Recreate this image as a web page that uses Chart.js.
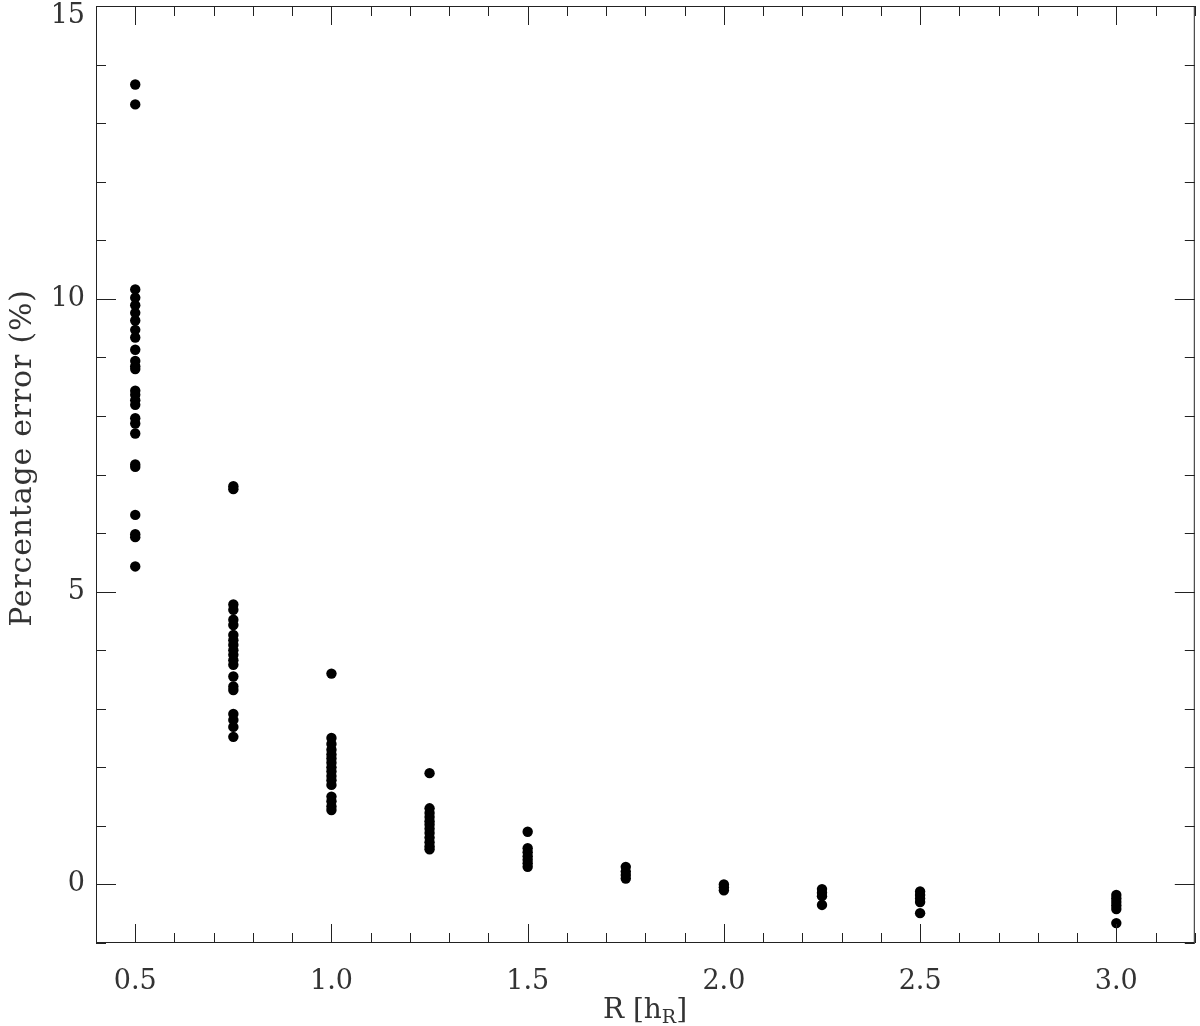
<!DOCTYPE html>
<html>
<head>
<meta charset="utf-8">
<title>Percentage error vs R</title>
<script src="https://cdn.jsdelivr.net/npm/chart.js@4.4.0/dist/chart.umd.min.js"></script>
<style>
  html, body { margin: 0; padding: 0; background: #fff; }
  #wrap { width: 1200px; height: 1026px; }
</style>
</head>
<body>
<div id="wrap"><canvas id="errChart" width="1200" height="1026"></canvas></div>
<script>
// radius (in units of h_R) of each column of points
const radii = [0.5, 0.75, 1.0, 1.25, 1.5, 1.75, 2.0, 2.25, 2.5, 3.0];

// percentage error, one array per radius
const err050 = [13.66, 13.32, 10.16, 10.02, 9.89, 9.76, 9.63, 9.47, 9.34, 9.13, 8.94, 8.85, 8.80,
                8.43, 8.36, 8.27, 8.19, 7.96, 7.87, 7.70, 7.17, 7.13, 6.31, 5.98, 5.93, 5.43];
const err075 = [6.80, 6.75, 4.78, 4.69, 4.52, 4.43, 4.26, 4.17, 4.09, 4.00, 3.92, 3.83, 3.75,
                3.55, 3.38, 3.32, 2.91, 2.81, 2.69, 2.52];
const err100 = [3.60, 2.50, 2.40, 2.30, 2.22, 2.15, 2.08, 2.00, 1.93, 1.85, 1.78, 1.70,
                1.50, 1.42, 1.33, 1.27];
const err125 = [1.90, 1.30, 1.22, 1.15, 1.08, 1.02, 0.95, 0.88, 0.80, 0.72, 0.65, 0.60];
const err150 = [0.90, 0.62, 0.55, 0.48, 0.42, 0.36, 0.30];
const err175 = [0.30, 0.22, 0.16, 0.10];
const err200 = [0.00, -0.05, -0.10];
const err225 = [-0.08, -0.14, -0.20, -0.35];
const err250 = [-0.12, -0.18, -0.24, -0.30, -0.49];
const err300 = [-0.18, -0.24, -0.30, -0.36, -0.42, -0.66];

// tick labels
const xTickLabels = ['0.5', '1.0', '1.5', '2.0', '2.5', '3.0'];
const yTickLabels = ['0', '5', '10', '15'];

const groups = [err050, err075, err100, err125, err150, err175, err200, err225, err250, err300];
const points = [];
radii.forEach((r, i) => {
    groups[i].forEach(v => points.push({ x: r, y: v }));
});

const inkColor = '#222';
const textColor = '#333';
const serif = "'DejaVu Serif', 'Liberation Serif', serif";

// frame on all four sides, inward ticks, and the two axis titles
const frameTicks = {
    id: 'frameTicks',
    afterDraw(chart) {
        const { ctx, chartArea: a, scales: { x, y } } = chart;
        ctx.save();
        ctx.strokeStyle = inkColor;
        ctx.lineWidth = 1;
        ctx.strokeRect(a.left + 0.5, a.top + 0.5, a.right - a.left - 1, a.bottom - a.top - 1);

        ctx.beginPath();
        // x: minor every 0.1, major every 0.5
        for (let i = 4; i <= 32; i++) {
            const px = Math.round(x.getPixelForValue(i / 10)) + 0.5;
            const len = i % 5 === 0 ? 19 : 10;
            ctx.moveTo(px, a.bottom); ctx.lineTo(px, a.bottom - len);
            ctx.moveTo(px, a.top); ctx.lineTo(px, a.top + len);
        }
        // y: minor every 1, major every 5
        for (let v = -1; v <= 15; v++) {
            const py = Math.round(y.getPixelForValue(v)) + 0.5;
            const len = v % 5 === 0 ? 20 : 10;
            ctx.moveTo(a.left, py); ctx.lineTo(a.left + len, py);
            ctx.moveTo(a.right, py); ctx.lineTo(a.right - len, py);
        }
        ctx.stroke();

        // y title
        ctx.fillStyle = textColor;
        ctx.font = '30px ' + serif;
        ctx.letterSpacing = '0.8px';
        ctx.textAlign = 'center';
        ctx.textBaseline = 'middle';
        ctx.save();
        ctx.translate(23, 458);
        ctx.rotate(-Math.PI / 2);
        ctx.fillText('Percentage error (%)', 0, 0);
        ctx.restore();
        ctx.letterSpacing = '0px';

        // x title  R [h_R]
        const base = 1018;
        const bigFont = '28px ' + serif;
        const subFont = '19px ' + serif;
        ctx.textAlign = 'left';
        ctx.textBaseline = 'alphabetic';
        ctx.font = bigFont;
        const w1 = ctx.measureText('R [h').width;
        const w3 = ctx.measureText(']').width;
        ctx.font = subFont;
        const w2 = ctx.measureText('R').width;
        let tx = 645 - (w1 + w2 + w3) / 2;
        ctx.font = bigFont;
        ctx.fillText('R [h', tx, base);
        tx += w1;
        ctx.font = subFont;
        ctx.fillText('R', tx, base + 5);
        tx += w2;
        ctx.font = bigFont;
        ctx.fillText(']', tx, base);
        ctx.restore();
    }
};

new Chart(document.getElementById('errChart'), {
    type: 'scatter',
    data: {
        datasets: [{
            data: points,
            backgroundColor: '#000',
            borderWidth: 0,
            pointRadius: 5.2,
            pointHoverRadius: 5.2
        }]
    },
    options: {
        responsive: false,
        animation: false,
        devicePixelRatio: 1,
        layout: { padding: { top: 6, right: 1, left: 0, bottom: 0 } },
        plugins: { legend: { display: false }, tooltip: { enabled: false } },
        scales: {
            x: {
                type: 'linear',
                min: 0.4,
                max: 3.2,
                grid: { display: false, drawTicks: false },
                border: { display: false },
                afterBuildTicks: axis => {
                    axis.ticks = xTickLabels.map(t => ({ value: parseFloat(t) }));
                },
                afterFit: s => {
                    s.height = 83;
                    s.paddingLeft = 0;
                    s.paddingRight = 0;
                },
                ticks: {
                    padding: 23,
                    maxRotation: 0,
                    color: textColor,
                    font: { family: serif, size: 27 },
                    callback: v => xTickLabels.find(t => parseFloat(t) === v)
                }
            },
            y: {
                type: 'linear',
                min: -1,
                max: 15,
                grid: { display: false, drawTicks: false },
                border: { display: false },
                afterBuildTicks: axis => {
                    axis.ticks = yTickLabels.map(t => ({ value: parseFloat(t) }));
                },
                afterFit: s => {
                    s.width = 96;
                    s.paddingTop = 0;
                    s.paddingBottom = 0;
                },
                ticks: {
                    padding: 11,
                    color: textColor,
                    font: { family: serif, size: 27, lineHeight: '20px' },
                    // the top label sits just below the frame corner
                    callback: v => v === 15 ? ['', '15'] : String(v)
                }
            }
        }
    },
    plugins: [frameTicks]
});
</script>
</body>
</html>
